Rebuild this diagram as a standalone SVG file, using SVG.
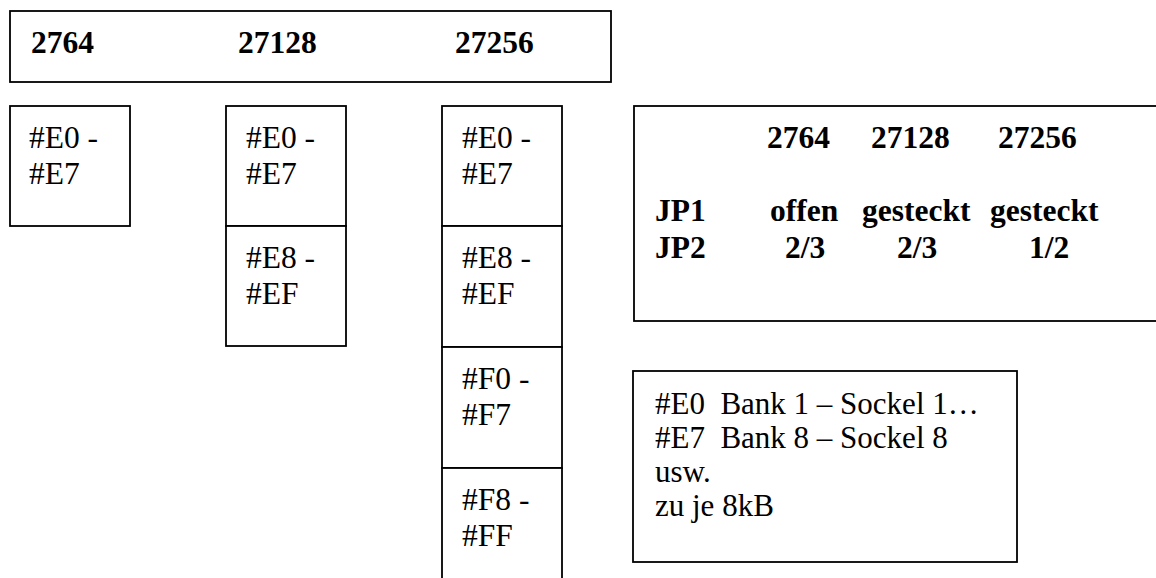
<svg xmlns="http://www.w3.org/2000/svg" width="1156" height="578" viewBox="0 0 1156 578">
  <style>
    .box { fill: #ffffff; stroke: #000000; stroke-width: 1.8; }
    .t { font-family: "Liberation Serif", "Times New Roman", serif; font-size: 31.5px; fill: #000000; }
    .b { font-weight: bold; }
    .n { font-size: 31px; }
  </style>
  <rect width="1156" height="578" fill="#ffffff"/>

  <!-- EPROM type header -->
  <g id="header">
    <rect class="box" x="10" y="11" width="601" height="71"/>
    <text class="t b" x="31" y="53">2764</text>
    <text class="t b" x="238" y="53">27128</text>
    <text class="t b" x="455" y="53">27256</text>
  </g>

  <!-- 2764: one bank range -->
  <g id="col-2764">
    <rect class="box" x="10" y="106" width="120" height="120"/>
    <text class="t" x="29" y="148">#E0 -</text>
    <text class="t" x="29" y="184">#E7</text>
  </g>

  <!-- 27128: two bank ranges -->
  <g id="col-27128">
    <rect class="box" x="226" y="106" width="120" height="120"/>
    <text class="t" x="246" y="148">#E0 -</text>
    <text class="t" x="246" y="184">#E7</text>
    <rect class="box" x="226" y="226" width="120" height="120"/>
    <text class="t" x="246" y="268">#E8 -</text>
    <text class="t" x="246" y="304">#EF</text>
  </g>

  <!-- 27256: four bank ranges -->
  <g id="col-27256">
    <rect class="box" x="442" y="106" width="120" height="120"/>
    <text class="t" x="462" y="148">#E0 -</text>
    <text class="t" x="462" y="184">#E7</text>
    <rect class="box" x="442" y="226" width="120" height="121"/>
    <text class="t" x="462" y="268">#E8 -</text>
    <text class="t" x="462" y="304">#EF</text>
    <rect class="box" x="442" y="347" width="120" height="121"/>
    <text class="t" x="462" y="389">#F0 -</text>
    <text class="t" x="462" y="425">#F7</text>
    <rect class="box" x="442" y="468" width="120" height="130"/>
    <text class="t" x="462" y="510">#F8 -</text>
    <text class="t" x="462" y="546">#FF</text>
  </g>

  <!-- jumper settings table -->
  <g id="jumpers">
    <rect class="box" x="634" y="106" width="540" height="215"/>
    <text class="t b" x="767" y="148">2764</text>
    <text class="t b" x="871" y="148">27128</text>
    <text class="t b" x="998" y="148">27256</text>
    <text class="t b" x="655" y="221">JP1</text>
    <text class="t b" x="770" y="221">offen</text>
    <text class="t b" x="862" y="221">gesteckt</text>
    <text class="t b" x="990" y="221">gesteckt</text>
    <text class="t b" x="655" y="258">JP2</text>
    <text class="t b" x="785" y="258">2/3</text>
    <text class="t b" x="897" y="258">2/3</text>
    <text class="t b" x="1029" y="258">1/2</text>
  </g>

  <!-- bank / socket note -->
  <g id="note">
    <rect class="box" x="633" y="371" width="384" height="191"/>
    <text class="t n" x="655" y="414">#E0 &#160;Bank 1 – Sockel 1…</text>
    <text class="t n" x="655" y="448">#E7 &#160;Bank 8 – Sockel 8</text>
    <text class="t n" x="655" y="482">usw.</text>
    <text class="t n" x="655" y="516">zu je 8kB</text>
  </g>

  <g id="connectors"/>
</svg>
